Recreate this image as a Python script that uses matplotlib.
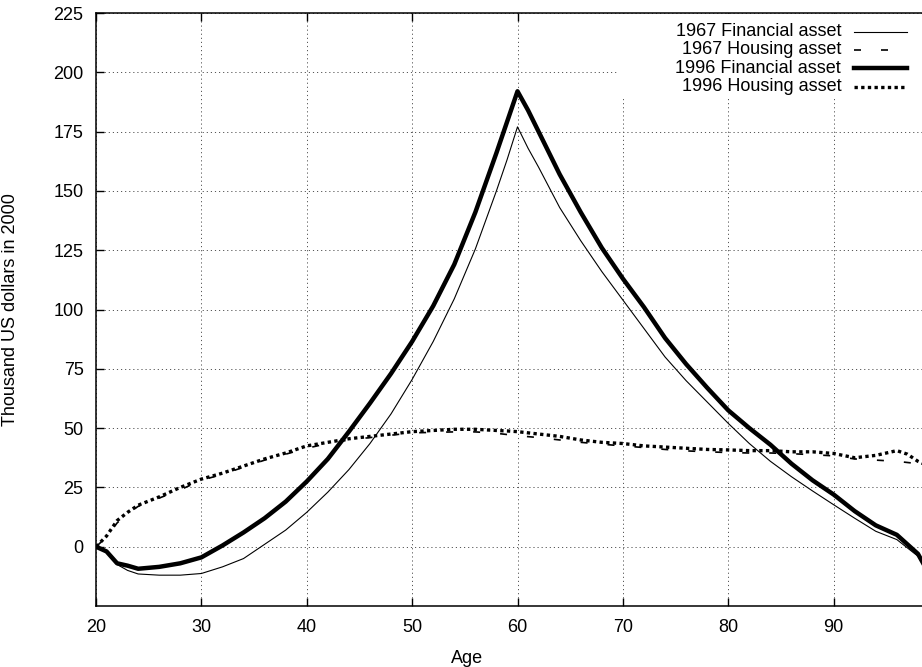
import matplotlib
matplotlib.use("Agg")
import matplotlib.pyplot as plt
from matplotlib.lines import Line2D
from matplotlib.patches import Rectangle

plt.rcParams['font.family'] = ['Liberation Sans', 'DejaVu Sans']

FONT_SIZE = 13

# ages on the x axis
ages = [20, 21, 22, 23, 24, 26, 28, 30, 32, 34, 36, 38, 40, 42, 44, 46, 48, 50,
        52, 54, 56, 58, 59, 60, 61, 62, 64, 66, 68, 70, 72, 74, 76, 78, 80, 82,
        84, 86, 88, 90, 92, 94, 96, 97, 98, 99]

# thousand US dollars in 2000
fin_1967 = [0, -2.5, -7.5, -10, -11.5, -12, -12, -11.3, -8.5, -5, 1, 7, 14.5,
            23, 32.5, 43.5, 56, 70.5, 86.5, 104.5, 125.5, 150, 163, 177, 168,
            160, 143, 129, 116, 104, 92, 80, 70, 61, 52, 43.5, 36, 29.5, 23.5,
            17.7, 12, 6.5, 3, -0.5, -4, -11]
housing_1967 = [0, 4, 10, 14, 17, 20.5, 24, 28, 30.5, 33.5, 36.5, 39, 41.5,
                43.5, 45, 46, 47, 48, 48.2, 48.4, 48.4, 47.8, 47.3, 46.8, 46.4,
                46, 45, 44, 43.2, 42.5, 41.8, 41, 40.4, 40, 39.7, 39.5, 39.5,
                39.2, 38.8, 38.3, 37, 36.5, 36, 35.5, 35, 34.5]
fin_1996 = [0, -2, -7, -8, -9.3, -8.5, -7, -4.5, 0.5, 6, 12, 19, 27.5, 37,
            48.5, 60.5, 73, 86.5, 101.5, 119, 141, 166, 179, 192, 184, 175,
            157, 141, 126, 113, 101, 88, 77, 67, 57.5, 50, 43, 35, 28, 22, 15,
            9, 5, 1, -3, -11]
housing_1996 = [0, 4.5, 11, 14.5, 17.5, 21, 25, 28.5, 31, 34, 37, 39.5, 42.5,
                44, 45.5, 46.5, 47.5, 48.5, 49, 49.5, 49.5, 49, 48.8, 48.5, 48,
                47.5, 46.5, 45, 44, 43.5, 42.5, 42, 41.5, 41, 40.8, 40.5, 40.5,
                40, 40, 39.3, 37.5, 38.5, 40.5, 39, 36, 34]

series_labels = ["1967 Financial asset", "1967 Housing asset",
                 "1996 Financial asset", "1996 Housing asset"]

x_ticks = [20, 30, 40, 50, 60, 70, 80, 90]
y_ticks = [0, 25, 50, 75, 100, 125, 150, 175, 200, 225]

styles = [
    dict(color="black", lw=0.8, ls="-"),
    dict(color="black", lw=1.2, ls=(0, (4.2, 12))),
    dict(color="black", lw=3.2, ls="-"),
    dict(color="black", lw=2.4, ls=(0, (1, 1)), dash_capstyle="butt"),
]

fig = plt.figure(figsize=(9.22, 6.67), dpi=100)
# right border falls just outside the picture, as in the original
ax = fig.add_axes([96 / 922, 61 / 667, 843 / 922, 593 / 667])

for ys, st, z in zip([fin_1967, housing_1967, fin_1996, housing_1996], styles, [3, 3, 4, 5]):
    ax.plot(ages, ys, zorder=z, **st)

ax.set_xlim(20, 100)
ax.set_ylim(-25, 225)
ax.set_xticks(x_ticks)
ax.set_yticks(y_ticks)
ax.tick_params(direction="in", length=6, width=1, top=True, right=True,
               labelsize=FONT_SIZE, pad=9)
for sp in ax.spines.values():
    sp.set_linewidth(1.1)

ax.grid(True, color="#555555", lw=0.7, ls=(0, (1.2, 3)), zorder=1)

ax.set_xlabel("Age", fontsize=FONT_SIZE)
ax.set_ylabel("Thousand US dollars in 2000", fontsize=FONT_SIZE)
ax.xaxis.set_label_coords(0.44, -0.074)
ax.yaxis.set_label_coords(-0.091, 0.5)

# gnuplot style key: opaque box, right aligned text, sample to the right
ax.add_patch(Rectangle((0.618, 0.858), 0.382, 0.141, transform=ax.transAxes,
                       facecolor="white", edgecolor="none", zorder=2))
row_y = [0.968, 0.938, 0.907, 0.876]
for label, st, yy in zip(series_labels, styles, row_y):
    ax.text(0.884, yy, label, transform=ax.transAxes, ha="right", va="center",
            fontsize=FONT_SIZE, zorder=6)
    ax.add_line(Line2D([0.899, 0.962], [yy, yy], transform=ax.transAxes,
                       zorder=6, **st))

fig.savefig("out.png", dpi=100)
